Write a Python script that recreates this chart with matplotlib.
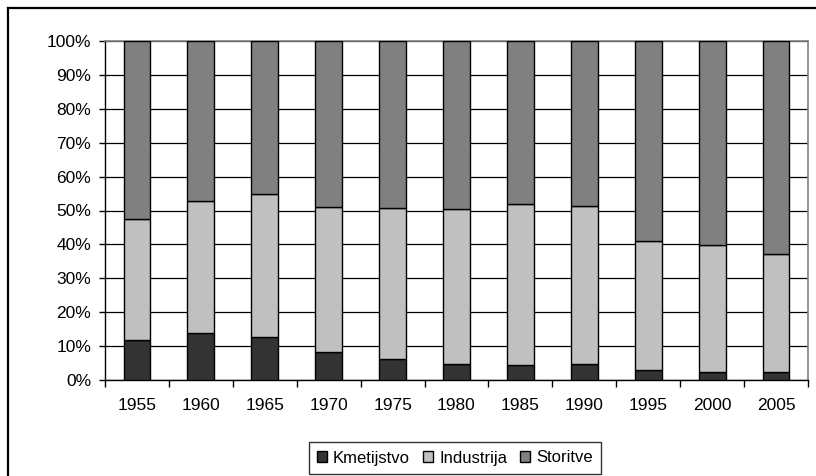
import numpy as np
import matplotlib.pyplot as plt
from matplotlib.lines import Line2D
from matplotlib.ticker import FixedLocator, PercentFormatter

plt.rcParams['font.family'] = ['Liberation Sans', 'DejaVu Sans']

years = ["1955", "1960", "1965", "1970", "1975", "1980", "1985", "1990", "1995", "2000", "2005"]
kmetijstvo = [11.8, 13.8, 12.8, 8.2, 6.2, 4.8, 4.3, 4.8, 2.9, 2.4, 2.4]
industrija = [35.8, 39.0, 42.0, 42.7, 44.6, 45.6, 47.5, 46.5, 38.0, 37.5, 34.7]
storitve = [100 - k - i for k, i in zip(kmetijstvo, industrija)]

W, H = 816, 476
fig = plt.figure(figsize=(W / 100, H / 100), dpi=100)
ax = fig.add_axes([105 / W, 1 - 380 / H, (808 - 105) / W, (380 - 41) / H])

x = np.arange(len(years))
bw = 0.42
ax.bar(x, kmetijstvo, bw, color="#333333", edgecolor="black", lw=1, label="Kmetijstvo", zorder=3)
ax.bar(x, industrija, bw, bottom=kmetijstvo, color="#C0C0C0", edgecolor="black", lw=1,
       label="Industrija", zorder=3)
bottom2 = [k + i for k, i in zip(kmetijstvo, industrija)]
ax.bar(x, storitve, bw, bottom=bottom2, color="#808080", edgecolor="black", lw=1,
       label="Storitve", zorder=3)

ax.set_xlim(-0.5, len(years) - 0.5)
ax.set_ylim(0, 100)
ax.set_yticks(np.arange(0, 101, 10))
ax.yaxis.set_major_formatter(PercentFormatter(decimals=0))
ax.grid(axis="y", color="black", lw=0.9, zorder=0)

ax.set_xticks(x)
ax.set_xticklabels(years)
ax.xaxis.set_minor_locator(FixedLocator(np.arange(-0.5, len(years), 1)))
ax.tick_params(axis="x", which="major", length=0, pad=13, labelsize=12.5)
ax.tick_params(axis="x", which="minor", length=5, width=1, color="black")
ax.tick_params(axis="y", length=4, width=1, pad=6, labelsize=12.5)

for s in ["left", "bottom"]:
    ax.spines[s].set_color("black")
    ax.spines[s].set_linewidth(1)
for s in ["top", "right"]:
    ax.spines[s].set_color("#808080")
    ax.spines[s].set_linewidth(1.2)

leg = fig.legend(loc="center", bbox_to_anchor=(455 / W, 1 - 458 / H), ncol=3,
                 fontsize=12, frameon=True, fancybox=False, edgecolor="black",
                 handlelength=0.6, handleheight=0.6, handletextpad=0.35,
                 columnspacing=0.8, borderpad=0.5, borderaxespad=0)
leg.get_frame().set_linewidth(1)

# outer chart border (left and top visible)
fig.add_artist(Line2D([8 / W, 8 / W], [1 - 8 / H, 0], transform=fig.transFigure,
                      color="black", lw=1.6))
fig.add_artist(Line2D([8 / W, 1], [1 - 8 / H, 1 - 8 / H], transform=fig.transFigure,
                      color="black", lw=1.6))

fig.savefig("out.png", dpi=100)
